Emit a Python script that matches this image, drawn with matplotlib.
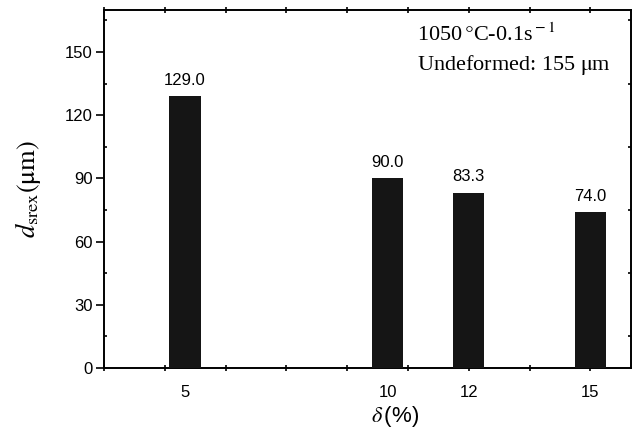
import numpy as np
import matplotlib
matplotlib.use('Agg')
import matplotlib.pyplot as plt
from matplotlib.ticker import MultipleLocator

strain = [5, 10, 12, 15]
grain_size = [129.0, 90.0, 83.3, 74.0]
bar_labels = ['129.0', '90.0', '83.3', '74.0']

plt.rcParams['font.family'] = ['Liberation Sans', 'DejaVu Sans']
plt.rcParams['mathtext.fontset'] = 'stix'

fig = plt.figure(figsize=(6.33, 4.33), dpi=100)
ax = fig.add_axes([0.1643, 0.150, 0.8325, 0.827])

ax.bar(strain, grain_size, width=0.77, color='#151515', zorder=3)
for x, y, s in zip(strain, grain_size, bar_labels):
    ax.text(x, y + 4, s, ha='center', va='bottom', fontsize=12)

ax.set_xlim(3, 16)
ax.set_ylim(0, 170)

# x: labels only at the bar positions, small ticks every 1.5
ax.set_xticks(strain)
ax.set_xticklabels([str(s) for s in strain], fontsize=12)
ax.tick_params(axis='x', which='major', length=0, pad=12)
ax.xaxis.set_minor_locator(MultipleLocator(1.5))
ax.xaxis.remove_overlapping_locs = False
ax.tick_params(axis='x', which='minor', direction='inout', length=4, width=1.2,
               top=True)

ax.yaxis.set_major_locator(MultipleLocator(30))
ax.yaxis.set_minor_locator(MultipleLocator(15))
ax.tick_params(axis='y', which='major', direction='out', length=6, width=1.2,
               labelsize=12, pad=2)
ax.tick_params(axis='y', which='minor', direction='in', length=2.5, width=1.2,
               right=True)

for sp in ax.spines.values():
    sp.set_linewidth(1.4)

ax.set_ylabel(r'$d_{\rm srex}({\rm \mu m})$', fontsize=19, labelpad=16)
ax.set_xlabel(r'$\delta\,$(%)', fontsize=16)
ax.xaxis.set_label_coords(0.552, -0.1)

ax.text(0.594, 0.93, r'1050$\,\degree$C-0.1s$^{\rm -1}$', transform=ax.transAxes,
        fontsize=16, family='Liberation Serif', ha='left', va='center')
ax.text(0.594, 0.846, r'Undeformed: 155 $\mathrm{\mu}$m', transform=ax.transAxes,
        fontsize=16, family='Liberation Serif', ha='left', va='center')

fig.savefig('out.png', dpi=100)
